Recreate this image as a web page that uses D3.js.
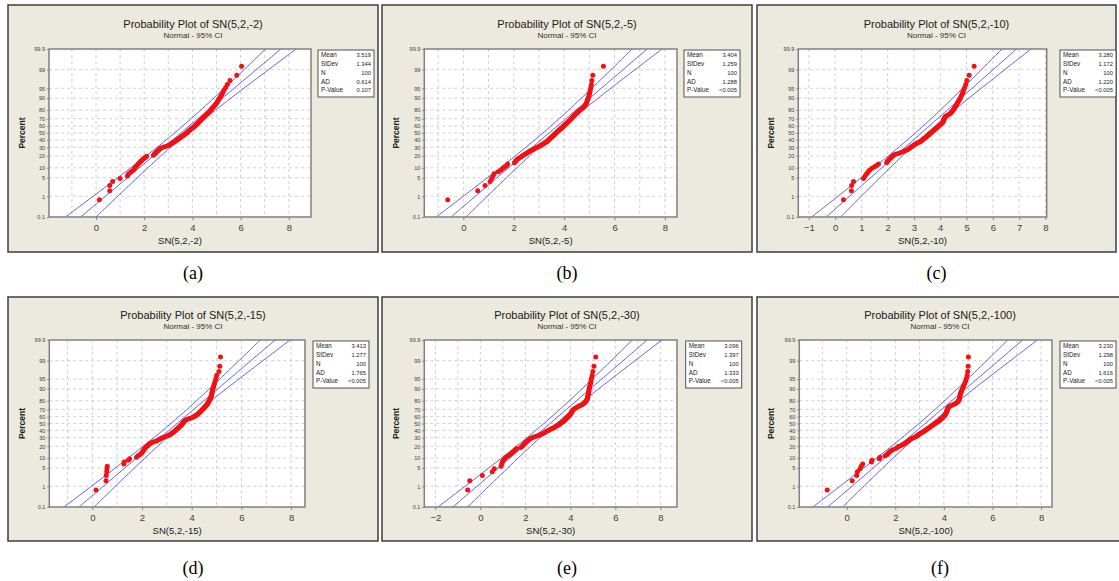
<!DOCTYPE html>
<html lang="en">
<head>
<meta charset="UTF-8">
<title>Probability plots of SN(5,2,r)</title>
<script src="https://cdn.jsdelivr.net/npm/d3@7"></script>
<style>
  body { margin: 0; background: #ffffff; }
  text { font-family: "Liberation Sans", Arial, sans-serif; }
</style>
</head>
<body>
<script>
// chart values
var names = ["SN(5,2,-2)", "SN(5,2,-5)", "SN(5,2,-10)", "SN(5,2,-15)", "SN(5,2,-30)", "SN(5,2,-100)"];
var captions = ["(a)", "(b)", "(c)", "(d)", "(e)", "(f)"];
var means = [3.519, 3.404, 3.280, 3.413, 3.096, 3.230];
var stdevs = [1.344, 1.259, 1.172, 1.277, 1.397, 1.298];
var counts = [100, 100, 100, 100, 100, 100];
var adValues = ["0.614", "1.288", "1.220", "1.765", "1.333", "1.616"];
var pValues = ["0.107", "<0.005", "<0.005", "<0.005", "<0.005", "<0.005"];
var percentTicks = [0.1, 1, 5, 10, 20, 30, 40, 50, 60, 70, 80, 90, 95, 99, 99.9];
var xTicks = [
  [0, 2, 4, 6, 8],
  [0, 2, 4, 6, 8],
  [-1, 0, 1, 2, 3, 4, 5, 6, 7, 8],
  [0, 2, 4, 6, 8],
  [-2, 0, 2, 4, 6, 8],
  [0, 2, 4, 6, 8]
];
var xDomains = [[-1.95, 8.92], [-1.55, 8.48], [-1.40, 8.05], [-1.73, 8.56], [-2.49, 8.74], [-1.95, 8.45]];

// sorted sample values (100 per plot)
var sampleA = [0.14, 0.57, 0.57, 0.69, 1.0, 1.3, 1.35, 1.45, 1.55, 1.6,
  1.65, 1.7, 1.75, 1.8, 1.85, 1.9, 1.95, 2.0, 2.05, 2.1,
  2.38, 2.42, 2.45, 2.48, 2.52, 2.56, 2.6, 2.63, 2.67, 2.75,
  2.85, 2.95, 3.02, 3.08, 3.12, 3.17, 3.22, 3.26, 3.3, 3.35,
  3.39, 3.43, 3.47, 3.5, 3.54, 3.58, 3.62, 3.66, 3.7, 3.74,
  3.77, 3.8, 3.83, 3.86, 3.9, 3.93, 3.97, 4.0, 4.04, 4.08,
  4.11, 4.14, 4.17, 4.2, 4.23, 4.26, 4.29, 4.32, 4.35, 4.38,
  4.42, 4.45, 4.49, 4.52, 4.56, 4.6, 4.63, 4.66, 4.7, 4.73,
  4.77, 4.8, 4.84, 4.88, 4.92, 4.96, 5.0, 5.03, 5.06, 5.1,
  5.14, 5.18, 5.22, 5.27, 5.31, 5.38, 5.45, 5.56, 5.84, 6.04];
var sampleB = [-0.62, 0.57, 0.86, 1.06, 1.12, 1.18, 1.22, 1.39, 1.5, 1.58,
  1.65, 1.72, 1.76, 2.03, 2.06, 2.1, 2.14, 2.2, 2.27, 2.32,
  2.38, 2.44, 2.5, 2.55, 2.6, 2.66, 2.72, 2.78, 2.85, 2.92,
  2.98, 3.03, 3.08, 3.13, 3.18, 3.22, 3.27, 3.31, 3.34, 3.37,
  3.4, 3.43, 3.46, 3.49, 3.52, 3.55, 3.58, 3.61, 3.63, 3.66,
  3.69, 3.72, 3.75, 3.78, 3.81, 3.84, 3.87, 3.9, 3.93, 3.96,
  3.99, 4.02, 4.05, 4.08, 4.11, 4.14, 4.17, 4.2, 4.23, 4.26,
  4.29, 4.32, 4.35, 4.38, 4.41, 4.44, 4.48, 4.52, 4.56, 4.6,
  4.65, 4.7, 4.75, 4.79, 4.83, 4.86, 4.88, 4.9, 4.92, 4.94,
  4.96, 4.98, 5.0, 5.02, 5.04, 5.06, 5.08, 5.1, 5.14, 5.56];
var sampleC = [0.32, 0.62, 0.63, 0.7, 1.08, 1.14, 1.2, 1.26, 1.32, 1.4,
  1.5, 1.58, 1.65, 1.96, 1.99, 2.02, 2.06, 2.1, 2.14, 2.18,
  2.22, 2.3, 2.4, 2.5, 2.58, 2.66, 2.72, 2.78, 2.83, 2.87,
  2.91, 2.95, 2.99, 3.03, 3.08, 3.13, 3.18, 3.23, 3.27, 3.31,
  3.34, 3.37, 3.41, 3.44, 3.47, 3.5, 3.53, 3.56, 3.59, 3.62,
  3.65, 3.68, 3.71, 3.74, 3.77, 3.8, 3.83, 3.86, 3.89, 3.92,
  3.95, 3.98, 4.01, 4.04, 4.07, 4.09, 4.11, 4.12, 4.13, 4.14,
  4.15, 4.17, 4.19, 4.22, 4.28, 4.34, 4.38, 4.41, 4.44, 4.47,
  4.5, 4.53, 4.55, 4.57, 4.6, 4.62, 4.65, 4.68, 4.71, 4.74,
  4.77, 4.8, 4.83, 4.86, 4.89, 4.93, 4.97, 5.01, 5.1, 5.29];
var sampleD = [0.15, 0.55, 0.56, 0.58, 0.59, 0.6, 1.27, 1.28, 1.45, 1.5,
  1.78, 1.84, 1.92, 1.98, 2.02, 2.05, 2.08, 2.11, 2.14, 2.18,
  2.22, 2.26, 2.3, 2.36, 2.45, 2.55, 2.62, 2.68, 2.74, 2.8,
  2.88, 2.96, 3.04, 3.1, 3.15, 3.19, 3.23, 3.27, 3.31, 3.34,
  3.37, 3.4, 3.43, 3.46, 3.49, 3.52, 3.55, 3.58, 3.6, 3.62,
  3.64, 3.66, 3.68, 3.7, 3.73, 3.78, 3.85, 3.92, 4.0, 4.06,
  4.12, 4.16, 4.2, 4.24, 4.27, 4.3, 4.33, 4.36, 4.39, 4.42,
  4.45, 4.48, 4.51, 4.54, 4.57, 4.6, 4.63, 4.65, 4.67, 4.69,
  4.71, 4.73, 4.75, 4.77, 4.79, 4.8, 4.81, 4.82, 4.83, 4.84,
  4.86, 4.88, 4.9, 4.92, 4.95, 4.98, 5.01, 5.1, 5.13, 5.16];
var sampleE = [-0.56, -0.47, 0.09, 0.53, 0.62, 0.92, 0.95, 0.98, 1.02, 1.08,
  1.14, 1.24, 1.32, 1.39, 1.45, 1.51, 1.56, 1.61, 1.8, 1.84,
  1.88, 1.92, 1.96, 2.0, 2.04, 2.08, 2.12, 2.16, 2.21, 2.28,
  2.36, 2.45, 2.55, 2.64, 2.72, 2.78, 2.84, 2.89, 2.94, 3.0,
  3.06, 3.12, 3.18, 3.24, 3.3, 3.35, 3.4, 3.45, 3.5, 3.54,
  3.58, 3.62, 3.66, 3.7, 3.73, 3.76, 3.79, 3.82, 3.85, 3.88,
  3.91, 3.94, 3.97, 4.0, 4.02, 4.04, 4.06, 4.08, 4.1, 4.13,
  4.17, 4.22, 4.28, 4.35, 4.42, 4.5, 4.56, 4.61, 4.65, 4.69,
  4.72, 4.74, 4.76, 4.77, 4.78, 4.79, 4.8, 4.81, 4.82, 4.83,
  4.84, 4.86, 4.88, 4.9, 4.92, 4.94, 4.97, 5.0, 5.05, 5.13];
var sampleF = [-0.8, 0.23, 0.41, 0.44, 0.55, 0.6, 0.66, 1.02, 1.04, 1.34,
  1.37, 1.58, 1.66, 1.71, 1.76, 1.82, 1.9, 2.02, 2.08, 2.13,
  2.22, 2.3, 2.36, 2.42, 2.47, 2.52, 2.56, 2.6, 2.65, 2.72,
  2.8, 2.86, 2.9, 2.94, 2.98, 3.03, 3.08, 3.13, 3.18, 3.22,
  3.26, 3.3, 3.34, 3.38, 3.42, 3.46, 3.5, 3.54, 3.58, 3.62,
  3.66, 3.7, 3.74, 3.78, 3.82, 3.85, 3.88, 3.91, 3.94, 3.97,
  4.0, 4.02, 4.04, 4.06, 4.08, 4.1, 4.11, 4.12, 4.13, 4.14,
  4.15, 4.16, 4.18, 4.22, 4.28, 4.36, 4.44, 4.5, 4.55, 4.59,
  4.61, 4.63, 4.64, 4.65, 4.66, 4.67, 4.68, 4.7, 4.72, 4.74,
  4.77, 4.8, 4.83, 4.86, 4.9, 4.93, 4.96, 4.98, 5.0, 5.01];
var samples = [sampleA, sampleB, sampleC, sampleD, sampleE, sampleF];

// panel frames and plot areas (layout only)
var frames = [
  {x: 8,   y: 5,   w: 370, h: 247, left: 41,   right: 303,   top: 44, bottom: 212, leg: 310,   cap: 27},
  {x: 382, y: 5,   w: 370, h: 247, left: 42.3, right: 295,   top: 44, bottom: 212, leg: 302,   cap: 27},
  {x: 757, y: 5,   w: 359, h: 247, left: 41.3, right: 289.7, top: 44, bottom: 212, leg: 303,   cap: 27},
  {x: 8,   y: 297, w: 370, h: 244, left: 41.3, right: 297,   top: 43, bottom: 210, leg: 305,   cap: 33},
  {x: 382, y: 297, w: 370, h: 244, left: 42.3, right: 295,   top: 43, bottom: 210, leg: 303.7, cap: 33},
  {x: 757, y: 297, w: 366, h: 244, left: 42.3, right: 295,   top: 43, bottom: 210, leg: 303,   cap: 33}
];

// inverse of the standard normal cdf (Acklam)
function qnorm(p) {
  var a = [-39.6968302866538, 220.946098424521, -275.928510446969, 138.357751867269, -30.6647980661472, 2.50662827745924];
  var b = [-54.4760987982241, 161.585836858041, -155.698979859887, 66.8013118877197, -13.2806815528857];
  var c = [-0.00778489400243029, -0.322396458041136, -2.40075827716184, -2.54973253934373, 4.37466414146497, 2.93816398269878];
  var d = [0.00778469570904146, 0.32246712907004, 2.445134137143, 3.75440866190742];
  var q, r;
  if (p < 0.02425) {
    q = Math.sqrt(-2 * Math.log(p));
    return (((((c[0]*q+c[1])*q+c[2])*q+c[3])*q+c[4])*q+c[5]) / ((((d[0]*q+d[1])*q+d[2])*q+d[3])*q+1);
  } else if (p > 1 - 0.02425) {
    q = Math.sqrt(-2 * Math.log(1 - p));
    return -(((((c[0]*q+c[1])*q+c[2])*q+c[3])*q+c[4])*q+c[5]) / ((((d[0]*q+d[1])*q+d[2])*q+d[3])*q+1);
  }
  q = p - 0.5; r = q * q;
  return (((((a[0]*r+a[1])*r+a[2])*r+a[3])*r+a[4])*r+a[5])*q / (((((b[0]*r+b[1])*r+b[2])*r+b[3])*r+b[4])*r+1);
}

var zMax = qnorm(0.999);
var svg = d3.select("body").append("svg")
  .attr("width", 1119)
  .attr("height", 581);

frames.forEach(function(f, k) {
  var g = svg.append("g").attr("transform", "translate(" + f.x + "," + f.y + ")");

  // panel background
  g.append("rect")
    .attr("x", 0).attr("y", 0).attr("width", f.w).attr("height", f.h)
    .attr("fill", "#ece9df").attr("stroke", "#3c3c3c").attr("stroke-width", 1.5);

  var x = d3.scaleLinear().domain(xDomains[k]).range([f.left, f.right]);
  var y = d3.scaleLinear().domain([-zMax, zMax]).range([f.bottom, f.top]);

  // plot area
  g.append("rect")
    .attr("x", f.left).attr("y", f.top)
    .attr("width", f.right - f.left).attr("height", f.bottom - f.top)
    .attr("fill", "#ffffff");

  g.append("clipPath").attr("id", "clip" + k)
    .append("rect")
    .attr("x", f.left).attr("y", f.top)
    .attr("width", f.right - f.left).attr("height", f.bottom - f.top);

  // dashed grid
  var xGrid = d3.range(Math.ceil(xDomains[k][0]), Math.floor(xDomains[k][1]) + 1);
  g.selectAll("line.vgrid")
    .data(xGrid)
    .enter()
    .append("line")
    .attr("class", "vgrid")
    .attr("x1", function(d) { return x(d); }).attr("x2", function(d) { return x(d); })
    .attr("y1", f.top).attr("y2", f.bottom)
    .attr("stroke", "#c4c4c4").attr("stroke-width", 0.8).attr("stroke-dasharray", "3,3");
  g.selectAll("line.hgrid")
    .data(percentTicks.slice(1, -1))
    .enter()
    .append("line")
    .attr("class", "hgrid")
    .attr("x1", f.left).attr("x2", f.right)
    .attr("y1", function(d) { return y(qnorm(d / 100)); })
    .attr("y2", function(d) { return y(qnorm(d / 100)); })
    .attr("stroke", "#c4c4c4").attr("stroke-width", 0.8).attr("stroke-dasharray", "3,3");

  // fitted line and 95% CI band
  var n = counts[k], m = means[k], s = stdevs[k];
  var zs = d3.range(-3.3, 3.31, 0.05);
  var lineFor = function(sign) {
    return d3.line()
      .x(function(z) { return x(m + z * s + sign * 1.96 * s * Math.sqrt(1 / n + z * z / (2 * n))); })
      .y(function(z) { return y(z); });
  };
  var plotG = g.append("g").attr("clip-path", "url(#clip" + k + ")");
  [-1, 0, 1].forEach(function(sign) {
    plotG.append("path")
      .datum(zs)
      .attr("d", lineFor(sign))
      .attr("fill", "none")
      .attr("stroke", "#5c5cee")
      .attr("stroke-width", 1);
  });

  // data points at median ranks
  plotG.selectAll("circle")
    .data(samples[k])
    .enter()
    .append("circle")
    .attr("cx", function(d) { return x(d); })
    .attr("cy", function(d, i) { return y(qnorm((i + 1 - 0.3) / (n + 0.4))); })
    .attr("r", 2.5)
    .attr("fill", "#f41010");

  // plot area border
  g.append("rect")
    .attr("x", f.left).attr("y", f.top)
    .attr("width", f.right - f.left).attr("height", f.bottom - f.top)
    .attr("fill", "none").attr("stroke", "#808080").attr("stroke-width", 1.5);

  // axes
  var xAxis = g.append("g")
    .attr("transform", "translate(0," + f.bottom + ")")
    .call(d3.axisBottom(x).tickValues(xTicks[k]).tickSize(3).tickSizeOuter(0));
  xAxis.select(".domain").remove();
  xAxis.selectAll("line").attr("stroke", "#808080");
  xAxis.selectAll("text").attr("font-size", 9.5).attr("fill", "#404040").attr("dy", "0.85em")
    .attr("font-family", "Liberation Sans, Arial, sans-serif");

  var yAxis = g.append("g")
    .attr("transform", "translate(" + f.left + ",0)")
    .call(d3.axisLeft(y)
      .tickValues(percentTicks.map(function(p) { return qnorm(p / 100); }))
      .tickFormat(function(d, i) { return percentTicks[i]; })
      .tickSize(2).tickPadding(2).tickSizeOuter(0));
  yAxis.select(".domain").remove();
  yAxis.selectAll("line").attr("stroke", "#808080");
  yAxis.selectAll("text").attr("font-size", 5.5).attr("fill", "#404040")
    .attr("font-family", "Liberation Sans, Arial, sans-serif");

  // titles
  var mid = f.w / 2;
  g.append("text").attr("x", mid).attr("y", f.top - 21.5)
    .attr("text-anchor", "middle").attr("font-size", 11).attr("fill", "#202020")
    .text("Probability Plot of " + names[k]);
  g.append("text").attr("x", mid).attr("y", f.top - 11.5)
    .attr("text-anchor", "middle").attr("font-size", 8).attr("fill", "#303030")
    .text("Normal - 95% CI");
  g.append("text").attr("x", (f.left + f.right) / 2).attr("y", f.bottom + 27)
    .attr("text-anchor", "middle").attr("font-size", 9.5).attr("fill", "#202020")
    .text(names[k]);
  g.append("text")
    .attr("transform", "translate(" + 17 + "," + ((f.top + f.bottom) / 2) + ") rotate(-90)")
    .attr("text-anchor", "middle").attr("font-size", 8.5).attr("font-weight", "bold").attr("fill", "#202020")
    .text("Percent");

  // statistics box
  var rows = [["Mean", means[k].toFixed(3)], ["StDev", stdevs[k].toFixed(3)], ["N", counts[k]],
              ["AD", adValues[k]], ["P-Value", pValues[k]]];
  var lg = g.append("g").attr("transform", "translate(" + f.leg + "," + (f.top + 1) + ")");
  lg.append("rect").attr("x", 0).attr("y", 0).attr("width", 56).attr("height", 47)
    .attr("fill", "#ffffff").attr("stroke", "#505050").attr("stroke-width", 1);
  lg.selectAll("text.lab")
    .data(rows)
    .enter()
    .append("text")
    .attr("class", "lab")
    .attr("x", 3).attr("y", function(d, i) { return 7.4 + i * 8.7; })
    .attr("font-size", 6.3).attr("fill", "#202020")
    .text(function(d) { return d[0]; });
  lg.selectAll("text.val")
    .data(rows)
    .enter()
    .append("text")
    .attr("class", "val")
    .attr("x", 53).attr("y", function(d, i) { return 7.4 + i * 8.7; })
    .attr("text-anchor", "end").attr("font-size", 5.8).attr("fill", "#202020")
    .text(function(d) { return d[1]; });

  // caption under the panel
  svg.append("text")
    .attr("x", f.x + f.w / 2)
    .attr("y", f.y + f.h + f.cap)
    .attr("text-anchor", "middle")
    .style("font-family", "'Liberation Serif', 'Times New Roman', serif")
    .attr("font-size", 18)
    .attr("fill", "#000000")
    .text(captions[k]);
});
</script>
</body>
</html>
